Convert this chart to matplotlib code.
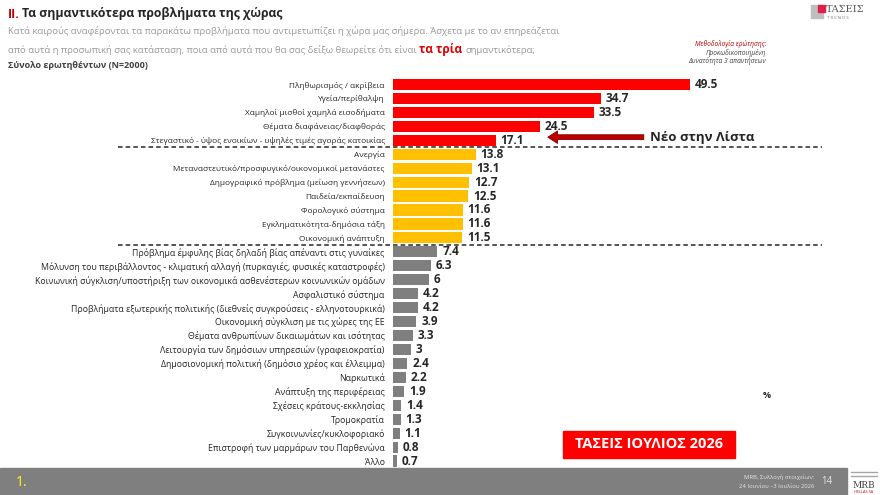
import numpy as np
import matplotlib.pyplot as plt
from matplotlib.patches import Rectangle
from matplotlib.transforms import blended_transform_factory

plt.rcParams['font.family'] = ['Open Sans', 'DejaVu Sans']

# Δεδομένα (%)
top_labels = ['Πληθωρισμός / ακρίβεια', 'Υγεία/περίθαλψη', 'Χαμηλοί μισθοί χαμηλά εισοδήματα',
              'Θέματα διαφάνειας/διαφθοράς',
              'Στεγαστικό - ύψος ενοικίων - υψηλές τιμές αγοράς κατοικίας']
top_values = [49.5, 34.7, 33.5, 24.5, 17.1]

mid_labels = ['Ανεργία', 'Μεταναστευτικό/προσφυγικό/οικονομικοί μετανάστες',
              'Δημογραφικό πρόβλημα (μείωση γεννήσεων)', 'Παιδεία/εκπαίδευση',
              'Φορολογικό σύστημα', 'Εγκληματικότητα-δημόσια τάξη', 'Οικονομική ανάπτυξη']
mid_values = [13.8, 13.1, 12.7, 12.5, 11.6, 11.6, 11.5]

low_labels = ['Πρόβλημα έμφυλης βίας δηλαδή βίας απέναντι στις γυναίκες',
              'Μόλυνση του περιβάλλοντος - κλιματική αλλαγή (πυρκαγιές, φυσικές καταστροφές)',
              'Κοινωνική σύγκλιση/υποστήριξη των οικονομικά ασθενέστερων κοινωνικών ομάδων',
              'Ασφαλιστικό σύστημα',
              'Προβλήματα εξωτερικής πολιτικής (διεθνείς συγκρούσεις - ελληνοτουρκικά)',
              'Οικονομική σύγκλιση με τις χώρες της ΕΕ',
              'Θέματα ανθρωπίνων δικαιωμάτων και ισότητας',
              'Λειτουργία των δημόσιων υπηρεσιών (γραφειοκρατία)',
              'Δημοσιονομική πολιτική (δημόσιο χρέος και έλλειμμα)',
              'Ναρκωτικά', 'Ανάπτυξη της περιφέρειας', 'Σχέσεις κράτους-εκκλησίας',
              'Τρομοκρατία', 'Συγκοινωνίες/κυκλοφοριακό',
              'Επιστροφή των μαρμάρων του Παρθενώνα', 'Άλλο']
low_values = [7.4, 6.3, 6, 4.2, 4.2, 3.9, 3.3, 3, 2.4, 2.2, 1.9, 1.4, 1.3, 1.1, 0.8, 0.7]

labels = top_labels + mid_labels + low_labels
values = top_values + mid_values + low_values
colors = ['#FF0000'] * len(top_values) + ['#FFC000'] * len(mid_values) + ['#7F7F7F'] * len(low_values)
n_upper = len(top_values) + len(mid_values)

W, H = 880, 495
fig = plt.figure(figsize=(8.8, 4.95), dpi=100)

def fx(px):
    return px / W

def fy(py):
    return 1 - py / H

# άξονες: μπάρες από x=393 px, 6 px ανά μονάδα
ax_top, ax_bot = 77.5, 468
ax = fig.add_axes([fx(393), fy(ax_bot), fx(W - 393), (ax_bot - ax_top) / H])
y = np.arange(len(values))
ax.barh(y, values, height=0.8, color=colors)
ax.set_xlim(0, (W - 393) / 6.0)
ax.set_ylim(len(values) - 0.5, -0.5)
ax.set_yticks(y)
ax.set_yticklabels(labels, color='#262626')
for i, lab in enumerate(ax.get_yticklabels()):
    lab.set_fontsize(5.95 if i < n_upper else 6.35)
ax.tick_params(axis='y', length=0, pad=6)
ax.set_xticks([])
for s in ax.spines.values():
    s.set_visible(False)

for i, v in enumerate(values):
    ax.text(v + 0.8, i, f'{v:g}', va='center', ha='left', fontsize=8.5,
            fontweight='bold', color='#262626')

# διακεκομμένες γραμμές
tr = blended_transform_factory(fig.transFigure, ax.transData)
for yy in [len(top_values) - 0.5, n_upper - 0.5]:
    ax.plot([fx(118), fx(822)], [yy, yy], transform=tr, color='#262626',
            lw=1.1, ls=(0, (3, 2)), clip_on=False)

# βέλος "Νέο στην Λίστα"
ax.annotate('', xy=(25.8, 3.78), xytext=(41.8, 3.78),
            arrowprops=dict(arrowstyle='simple,head_width=0.9,head_length=0.7,tail_width=0.35',
                            fc='#C00000', ec='#7F0000', lw=0.6, shrinkA=0, shrinkB=0,
                            mutation_scale=10))
ax.text(42.8, 3.78, 'Νέο στην Λίστα', va='center', ha='left', fontsize=9.5,
        fontweight='bold', color='#262626')

# τίτλος
fig.text(fx(8), fy(14), 'II.', color='#C00000', fontweight='bold', fontsize=8.8, va='center')
fig.text(fx(22), fy(14), 'Τα σημαντικότερα προβλήματα της χώρας', color='#262626',
         fontweight='bold', fontsize=8.8, va='center')
fig.text(fx(8), fy(31), 'Κατά καιρούς αναφέρονται τα παρακάτω προβλήματα που αντιμετωπίζει η χώρα μας σήμερα. '
         'Άσχετα με το αν επηρεάζεται', color='#999999', fontsize=6.8, va='center')
s2 = fig.text(fx(8), fy(53), 'από αυτά η προσωπική σας κατάσταση, ποια από αυτά που θα σας δείξω θεωρείτε ότι είναι ',
              color='#999999', fontsize=6.8, va='baseline')
s3 = fig.text(0, 0, 'τα τρία', color='#E00000', fontsize=8.5, fontweight='bold', va='baseline')
fig.canvas.draw()
bb = s2.get_window_extent()
s3.set_position((bb.x1 / W, s2.get_position()[1]))
bb3 = s3.get_window_extent()
fig.text(bb3.x1 / W + 0.004, s2.get_position()[1], 'σημαντικότερα;', color='#999999',
         fontsize=6.8, va='baseline')
fig.text(fx(8), fy(66), 'Σύνολο ερωτηθέντων (N=2000)', color='#404040', fontsize=6.5,
         fontweight='bold', va='center')

# μεθοδολογία
fig.text(fx(766), fy(44), 'Μεθοδολογία ερώτησης:', color='#C00000', fontsize=4.8,
         style='italic', ha='right', va='center')
fig.text(fx(766), fy(53), 'Προκωδικοποιημένη', color='#404040', fontsize=4.8,
         style='italic', ha='right', va='center')
fig.text(fx(766), fy(61), 'Δυνατότητα 3 απαντήσεων', color='#404040', fontsize=4.8,
         style='italic', ha='right', va='center')

# λογότυπο ΤΑΣΕΙΣ
fig.patches.append(Rectangle((fx(811), fy(18)), fx(12), 13 / H, color='#BFBFBF',
                             transform=fig.transFigure))
fig.patches.append(Rectangle((fx(818), fy(12)), fx(7), 7 / H, color='#E0204A',
                             transform=fig.transFigure))
fig.text(fx(826), fy(9), 'ΤΑΣΕΙΣ', color='#595959', fontsize=7, family='DejaVu Serif', va='center')
fig.text(fx(827), fy(18), 'T R E N D S', color='#7F7F7F', fontsize=3.2, va='center')

# "%"
fig.text(fx(767), fy(395), '%', color='#262626', fontsize=6.5, fontweight='bold',
         ha='center', va='center')

# κόκκινο πλαίσιο
fig.patches.append(Rectangle((fx(563), fy(458)), fx(172), 27 / H, color='#FF0000',
                             transform=fig.transFigure))
fig.text(fx(649), fy(444.5), 'ΤΑΣΕΙΣ ΙΟΥΛΙΟΣ 2026', color='white', fontsize=10.5,
         fontweight='bold', ha='center', va='center')

# υποσέλιδο
fig.patches.append(Rectangle((0, 0), fx(847), 27 / H, color='#7F7F7F',
                             transform=fig.transFigure))
fig.text(fx(16), fy(483), '1.', color='#FFFF00', fontsize=10, va='center')
fig.text(fx(814), fy(477), 'MRB, Συλλογή στοιχείων:', color='#E6E6E6', fontsize=4.2,
         ha='right', va='center')
fig.text(fx(814), fy(486), '24 Ιουνίου –3 Ιουλίου 2026', color='#E6E6E6', fontsize=4.2,
         ha='right', va='center')
fig.text(fx(827), fy(481), '14', color='#E6E6E6', fontsize=7, ha='center', va='center')

# λογότυπο MRB
for py in [472, 476]:
    fig.add_artist(plt.Line2D([fx(851), fx(877)], [fy(py), fy(py)], color='#A6A6A6', lw=1))
fig.text(fx(864), fy(485), 'MRB', color='#404040', fontsize=6.5, family='DejaVu Serif',
         ha='center', va='center')
fig.text(fx(864), fy(492), 'HELLAS SA', color='#C00000', fontsize=2.8, ha='center', va='center')

fig.savefig('out.png', dpi=100)
